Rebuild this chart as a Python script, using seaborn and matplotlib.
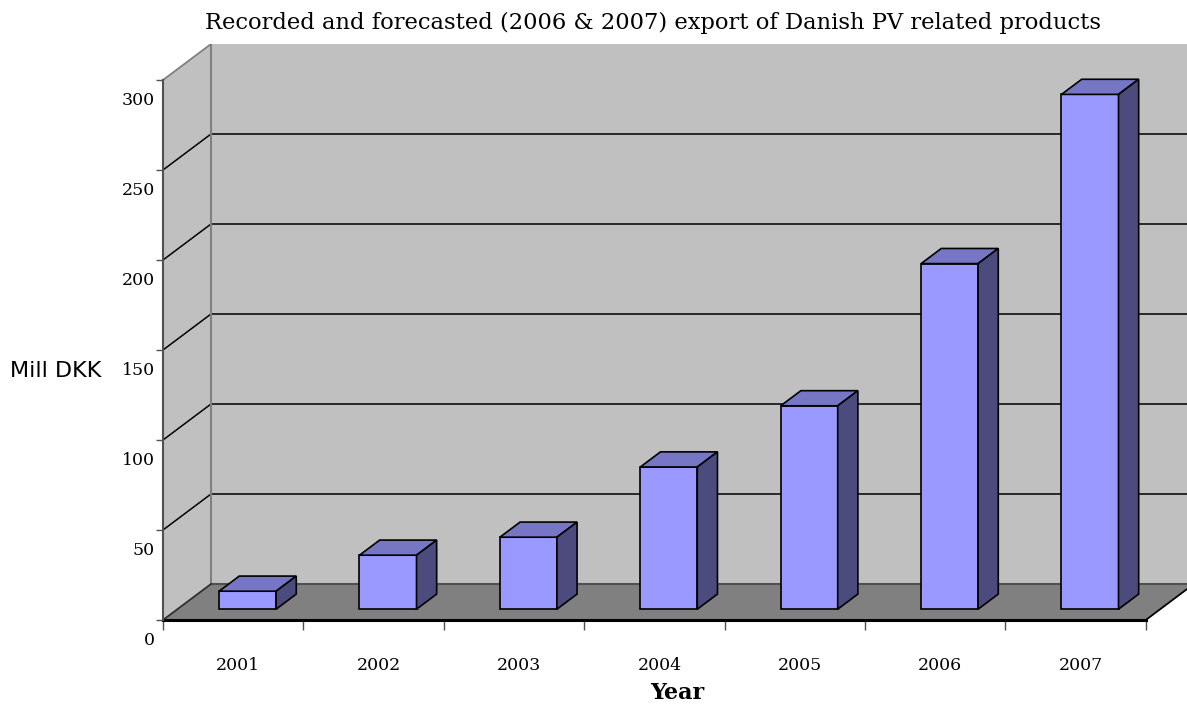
import matplotlib
matplotlib.use("Agg")
import matplotlib.pyplot as plt
import matplotlib.transforms as mtransforms
from matplotlib.patches import Polygon, Rectangle
import seaborn as sns

# ---- data ----
years = ["2001", "2002", "2003", "2004", "2005", "2006", "2007"]
export_mill_dkk = [10, 30, 40, 79, 113, 192, 286]
y_ticks = [0, 50, 100, 150, 200, 250, 300]
title = "Recorded and forecasted (2006 & 2007) export of Danish PV related products"
x_label = "Year"
y_label = "Mill DKK"

sns.set_style("white")
plt.rcParams["font.family"] = ["DejaVu Serif"]
plt.rcParams["text.color"] = "black"
plt.rcParams["xtick.color"] = "black"
plt.rcParams["ytick.color"] = "black"
plt.rcParams["xtick.labelcolor"] = "black"
plt.rcParams["ytick.labelcolor"] = "black"

W, H = 1187, 708
fig = plt.figure(figsize=(W / 100, H / 100), dpi=100)
left_px, right_px, bottom_px, top_px = 163, 1187, 620, 44
ax = fig.add_axes([left_px / W, (H - bottom_px) / H,
                   (right_px - left_px) / W, (bottom_px - top_px) / H])

n = len(years)
cat_px = 140.4
px_per_unit = 1.8
xmin = -0.5
xmax = xmin + (right_px - left_px) / cat_px
ymax = (bottom_px - top_px) / px_per_unit
DX = 48 / cat_px
DY = 36 / px_per_unit
front_depth, back_depth = 0.30, 0.72

front_col = "#9999FF"
top_col = "#7676C4"
side_col = "#4B4B7E"

sns.barplot(x=years, y=export_mill_dkk, order=years, color=front_col,
            saturation=1, width=0.406, edgecolor="black", linewidth=1.2,
            zorder=3, ax=ax)
bars = list(ax.patches)

ax.set_xlim(xmin, xmax)
ax.set_ylim(0, ymax)

# walls and floor
ax.add_patch(Rectangle((xmin + DX, DY), xmax - xmin + 1, ymax - DY,
                       facecolor="#C0C0C0", edgecolor="none", zorder=0))
ax.add_patch(Polygon([(xmin, 0), (xmin + DX, DY), (xmin + DX, ymax),
                      (xmin, y_ticks[-1])], closed=True,
                     facecolor="#C0C0C0", edgecolor="none", zorder=0))
ax.add_patch(Polygon([(xmin, 0), (xmin + n, 0), (xmin + n + DX, DY),
                      (xmin + DX, DY)], closed=True, facecolor="#808080",
                     edgecolor="none", zorder=1, clip_on=False))

for v in y_ticks[1:-1]:
    ax.plot([xmin + DX, xmax], [v + DY, v + DY], color="black", lw=1.1, zorder=0.5)
    ax.plot([xmin, xmin + DX], [v, v + DY], color="black", lw=1.1, zorder=0.5)
ax.plot([xmin, xmin + DX], [y_ticks[-1], ymax], color="#808080", lw=1.3, zorder=0.6)
ax.plot([xmin + DX, xmin + DX], [DY, ymax], color="#808080", lw=1.5, zorder=0.6)
ax.plot([xmin + DX, xmax], [DY, DY], color="#505050", lw=1.5, zorder=1.5)
ax.plot([xmin, xmin + DX], [0, DY], color="#303030", lw=1.3, zorder=1.5)
ax.plot([xmin + n, xmin + n + DX], [0, DY], color="black", lw=1.3, zorder=1.5,
        clip_on=False)

# 3D faces for bars
ddx = (back_depth - front_depth) * DX
ddy = (back_depth - front_depth) * DY
for p in bars:
    xl = p.get_x() + front_depth * DX
    w = p.get_width()
    h = p.get_height()
    yb = front_depth * DY
    p.set_x(xl)
    p.set_y(yb)
    yt = yb + h
    ax.add_patch(Polygon([(xl, yt), (xl + w, yt), (xl + w + ddx, yt + ddy),
                          (xl + ddx, yt + ddy)], closed=True, facecolor=top_col,
                         edgecolor="black", lw=1.2, zorder=3))
    ax.add_patch(Polygon([(xl + w, yb), (xl + w + ddx, yb + ddy),
                          (xl + w + ddx, yt + ddy), (xl + w, yt)], closed=True,
                         facecolor=side_col, edgecolor="black", lw=1.2, zorder=3))

# axes styling
for s in ["top", "right"]:
    ax.spines[s].set_visible(False)
ax.spines["left"].set_bounds(0, y_ticks[-1])
ax.spines["left"].set_color("#505050")
ax.spines["left"].set_linewidth(1.5)
ax.spines["bottom"].set_bounds(xmin, xmin + n)
ax.spines["bottom"].set_color("black")
ax.spines["bottom"].set_linewidth(2.2)
ax.spines["bottom"].set_zorder(2)

ax.set_yticks(y_ticks)
ax.set_yticklabels([str(t) for t in y_ticks])
ax.tick_params(axis="y", direction="out", length=5, width=1, color="#505050",
               labelsize=12.5, labelcolor="black", pad=1, left=True)
off = mtransforms.ScaledTranslation(0, -18.5 / 100, fig.dpi_scale_trans)
for lbl in ax.get_yticklabels():
    lbl.set_transform(lbl.get_transform() + off)

ax.set_xticks([xmin + i for i in range(n + 1)])
ax.set_xticklabels([""] * (n + 1))
ax.set_xticks(range(n), labels=years, minor=True)
ax.tick_params(axis="x", which="major", direction="out", length=7, width=1,
               color="#505050", bottom=True)
ax.tick_params(axis="x", which="minor", length=0, pad=27, labelsize=12.5,
               labelcolor="black")
offx = mtransforms.ScaledTranslation(5 / 100, 0, fig.dpi_scale_trans)
for lbl in ax.get_xticklabels(minor=True):
    lbl.set_transform(lbl.get_transform() + offx)
ax.set_xlabel("")
ax.set_ylabel("")
ax.grid(False)
ax.set_facecolor("white")

fig.text(653 / W, 1 - 23 / H, title, ha="center", va="center", fontsize=16.3,
         family="DejaVu Serif", color="black")
fig.text(677 / W, 1 - 693 / H, x_label, ha="center", va="center", fontsize=16,
         fontweight="bold", family="DejaVu Serif", color="black")
fig.text(10 / W, 1 - 371 / H, y_label, ha="left", va="center", fontsize=16,
         family="DejaVu Sans", color="black")

fig.savefig("out.png", dpi=100)
